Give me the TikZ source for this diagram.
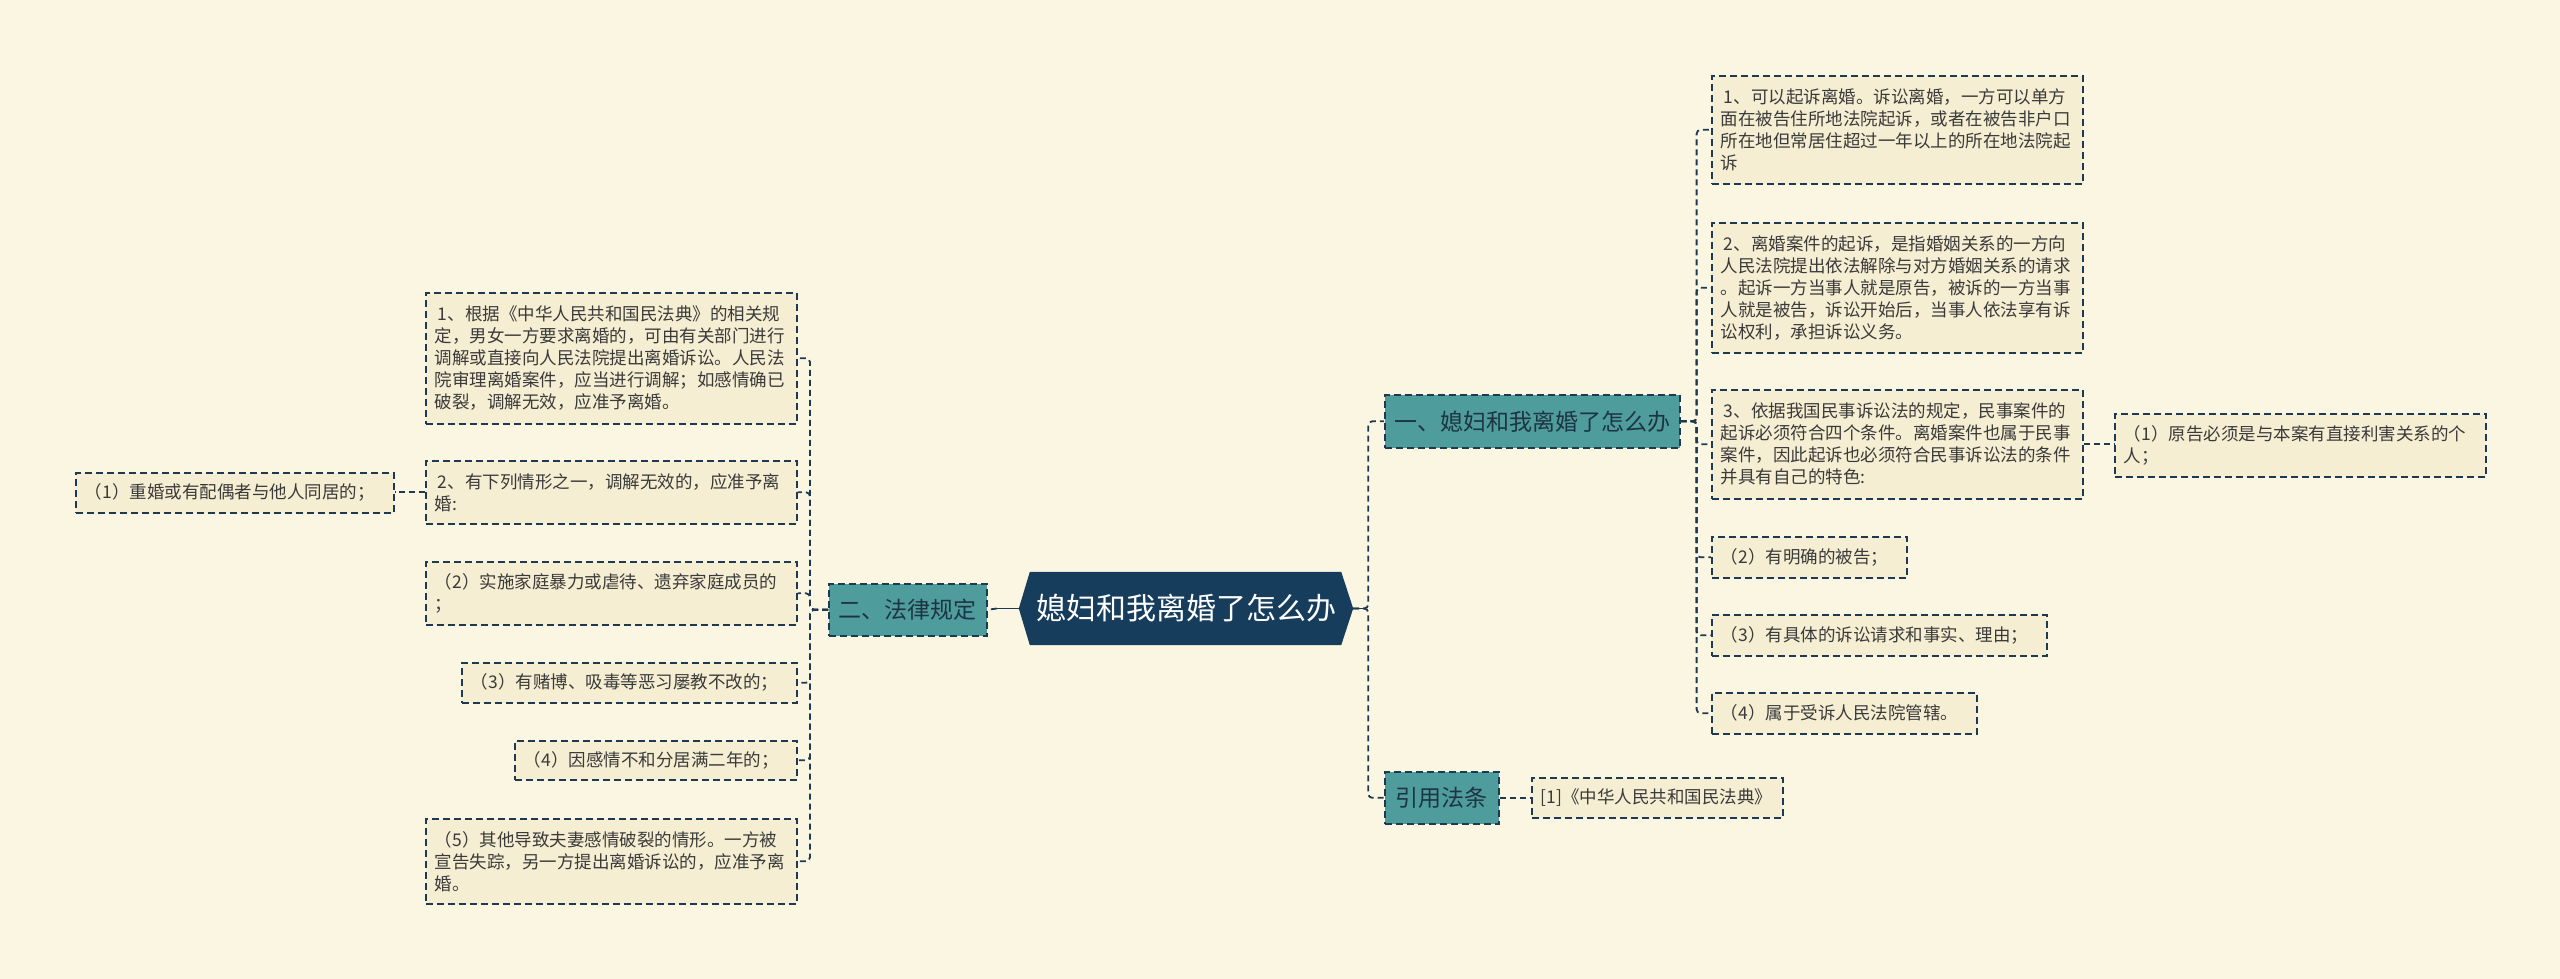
\documentclass[tikz,border=0pt]{standalone}
\usepackage{fontspec}
\setmainfont{Noto Sans CJK SC}
\pgfdeclarelayer{bg}
\pgfsetlayers{bg,main}
\definecolor{bgc}{HTML}{FBF6E2}
\definecolor{boxfill}{HTML}{F5EED2}
\definecolor{linec}{HTML}{1E3A52}
\definecolor{tealc}{HTML}{4F9C9C}
\definecolor{tealtext}{HTML}{1D3444}
\definecolor{rootc}{HTML}{173D5C}
\definecolor{textc}{HTML}{3A3A3A}
\tikzset{
  leaf/.style={draw=linec, line width=1.6pt, dash pattern=on 7pt off 4pt, fill=boxfill,
    text=textc, font=\fontsize{17.5}{22}\selectfont, inner xsep=9pt, inner ysep=0pt,
    anchor=north west, align=left},
  topic/.style={draw=linec, line width=1.6pt, dash pattern=on 7pt off 4pt, fill=tealc,
    text=tealtext, font=\fontsize{23}{28}\selectfont, inner sep=0pt, anchor=north west, align=center},
  conn/.style={draw=linec, line width=1.8pt, dash pattern=on 6pt off 4pt, rounded corners=4pt},
  stub/.style={draw=linec, line width=1.8pt},
}
\begin{document}
\begin{tikzpicture}[x=1pt,y=-1pt]
\useasboundingbox (0,0) rectangle (2560,979);
\begin{pgfonlayer}{bg}
\fill[bgc] (0,0) rectangle (2560,979);
\end{pgfonlayer}

% root
\node[font=\fontsize{30}{36}\selectfont, text=white, minimum width=334pt, minimum height=73pt, inner sep=0pt] (root) at (1186,608.5) {媳妇和我离婚了怎么办};
\begin{pgfonlayer}{bg}
\fill[rootc] (root.west) -- ([xshift=11pt]root.north west) -- ([xshift=-12pt]root.north east) -- (root.east) -- ([xshift=-12pt]root.south east) -- ([xshift=11pt]root.south west) -- cycle;
\end{pgfonlayer}

% left branch
\node[topic, minimum width=158pt, minimum height=52pt] (law) at (828,583) {二、法律规定};
\node[leaf, text width=353pt, minimum height=131pt] (l1) at (425,292) {\hspace*{3pt}1、根据《中华人民共和国民法典》的相关规\\定，男女一方要求离婚的，可由有关部门进行\\调解或直接向人民法院提出离婚诉讼。人民法\\院审理离婚案件，应当进行调解；如感情确已\\破裂，调解无效，应准予离婚。};
\node[leaf, text width=353pt, minimum height=63pt] (l2) at (425,460) {\hspace*{3pt}2、有下列情形之一，调解无效的，应准予离\\婚:};
\node[leaf, text width=300pt, minimum height=40pt] (lg) at (75,472) {（1）重婚或有配偶者与他人同居的；};
\node[leaf, text width=353pt, minimum height=63pt] (l3) at (425,561) {（2）实施家庭暴力或虐待、遗弃家庭成员的\\；};
\node[leaf, text width=317pt, minimum height=40pt] (l4) at (461,662) {（3）有赌博、吸毒等恶习屡教不改的；};
\node[leaf, text width=264pt, minimum height=39pt] (l5) at (514,740) {（4）因感情不和分居满二年的；};
\node[leaf, text width=353pt, minimum height=85pt] (l6) at (425,818) {（5）其他导致夫妻感情破裂的情形。一方被\\宣告失踪，另一方提出离婚诉讼的，应准予离\\婚。};

% right branch
\node[topic, minimum width=295pt, minimum height=53pt] (how) at (1384,394) {一、媳妇和我离婚了怎么办};
\node[topic, minimum width=114pt, minimum height=52pt] (cite) at (1384,771) {引用法条};
\node[leaf, text width=353pt, minimum height=108pt] (r1) at (1711,75) {\hspace*{3pt}1、可以起诉离婚。诉讼离婚，一方可以单方\\面在被告住所地法院起诉，或者在被告非户口\\所在地但常居住超过一年以上的所在地法院起\\诉};
\node[leaf, text width=353pt, minimum height=130pt] (r2) at (1711,222) {\hspace*{3pt}2、离婚案件的起诉，是指婚姻关系的一方向\\人民法院提出依法解除与对方婚姻关系的请求\\。起诉一方当事人就是原告，被诉的一方当事\\人就是被告，诉讼开始后，当事人依法享有诉\\讼权利，承担诉讼义务。};
\node[leaf, text width=353pt, minimum height=109pt] (r3) at (1711,389) {\hspace*{3pt}3、依据我国民事诉讼法的规定，民事案件的\\起诉必须符合四个条件。离婚案件也属于民事\\案件，因此起诉也必须符合民事诉讼法的条件\\并具有自己的特色:};
\node[leaf, text width=353pt, minimum height=63pt] (rg) at (2114,413) {（1）原告必须是与本案有直接利害关系的个\\人；};
\node[leaf, text width=177pt, minimum height=41pt] (r4) at (1711,536) {（2）有明确的被告；};
\node[leaf, text width=317pt, minimum height=41pt] (r5) at (1711,614) {（3）有具体的诉讼请求和事实、理由；};
\node[leaf, text width=247pt, minimum height=41pt] (r6) at (1711,692) {（4）属于受诉人民法院管辖。};
\node[leaf, text width=233pt, minimum height=40pt] (ref) at (1531,777) {[1]《中华人民共和国民法典》};

% connectors
\coordinate (lstub) at ([xshift=-22pt]root.west);
\coordinate (rstub) at ([xshift=13pt]root.east);
\draw[stub] (root.west) -- (lstub);
\draw[stub] (root.east) -- (rstub);
\draw[conn] (lstub) -- (law.east);
\draw[conn] (root.east) -- ++(15,0) |- (how.west);
\draw[conn] (root.east) -- ++(15,0) |- (cite.west);

\foreach \c in {l1,l2,l3,l4,l5,l6}
  \draw[conn] (law.west) -- ++(-18,0) |- (\c.east);
\draw[conn] (l2.west) -- (l2.west -| lg.east);

\foreach \c in {r1,r2,r3,r4,r5,r6}
  \draw[conn] (how.east) -- ++(16,0) |- (\c.west);
\draw[conn] (r3.east) -- (r3.east -| rg.west);
\draw[conn] (cite.east) -- (ref.west);
\end{tikzpicture}
\end{document}
